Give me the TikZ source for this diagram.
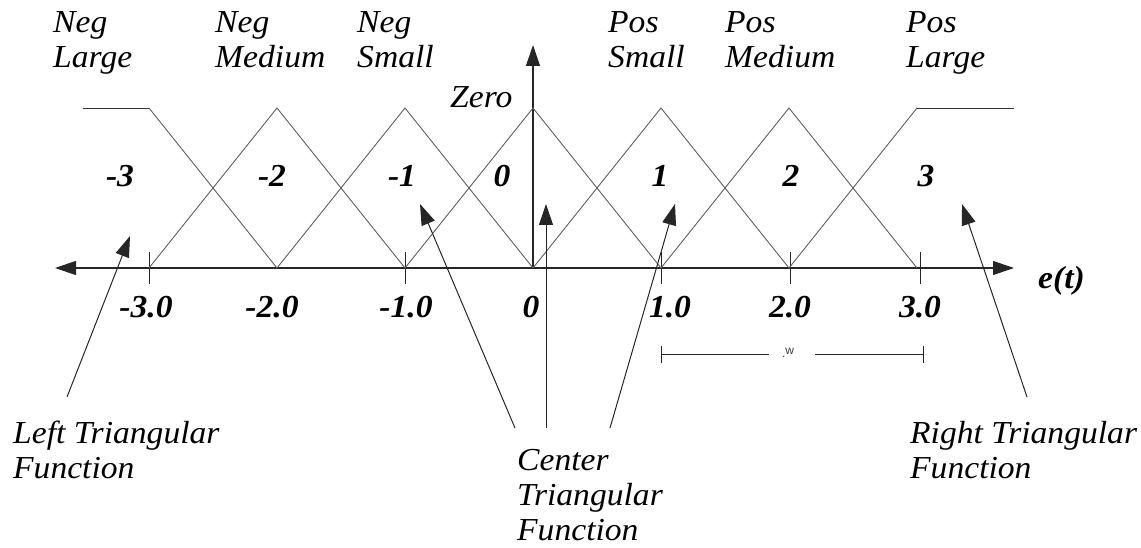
\documentclass[tikz,border=0pt]{standalone}
\usepackage{fontspec}
\setmainfont{Liberation Serif}
\newfontfamily\labfont[FakeStretch=1.05]{Liberation Serif}
\setsansfont{Liberation Sans}
\usetikzlibrary{arrows.meta}
\begin{document}
\begin{tikzpicture}[x=1pt,y=-1pt,
  lab/.style={font=\labfont\fontsize{32}{35}\selectfont\itshape, inner sep=0pt, align=left},
  num/.style={font=\labfont\fontsize{32}{35}\selectfont\bfseries\itshape, inner sep=0pt},
  mf/.style={draw=black!62, line width=0.9pt, line join=miter},
  axisline/.style={draw=black!85, line width=1.2pt},
  tip/.style={-{Triangle[length=21pt,width=14pt]}},
  pointer/.style={draw=black!85, line width=1pt, -{Triangle[length=21pt,width=14pt]}},
  tickmark/.style={draw=black!85, line width=1pt}]
\useasboundingbox (0,0) rectangle (1141,548);
% axes
\coordinate (xl) at (55,268);
\coordinate (xr) at (1014,268);
\coordinate (o) at (533,268);
\coordinate (yt) at (533,45);
\draw[axisline, tip] (o) -- (xl);
\draw[axisline, tip] (o) -- (xr);
\draw[axisline, tip] (o) -- (yt);
% ticks
\foreach \x in {149, 405, 661, 790, 920}{
  \draw[tickmark] (\x,252) -- (\x,284);
}
% membership functions
\draw[mf, draw=black!80] (83,108) -- (149,108);
\draw[mf] (149,108) -- (277,268);
\draw[mf] (149,268) -- (277,108) -- (405,268);
\draw[mf] (277,268) -- (405,108) -- (533,268);
\draw[mf] (405,268) -- (533,108) -- (661,268);
\draw[mf] (533,268) -- (661,108) -- (789,268);
\draw[mf] (661,268) -- (789,108) -- (917,268);
\draw[mf] (789,268) -- (917,108);
\draw[mf, draw=black!80] (917,108) -- (1014,108);
% set labels (anchor = baseline of last line)
\node[lab, anchor=base west] (nl) at (53,68) {Neg\\Large};
\node[lab, anchor=base west] (nm) at (215,68) {Neg\\Medium};
\node[lab, anchor=base west] (ns) at (357,68) {Neg\\Small};
\node[lab, anchor=base west] (ze) at (450,108) {Zero};
\node[lab, anchor=base west] (ps) at (608,68) {Pos\\Small};
\node[lab, anchor=base west] (pm) at (725,68) {Pos\\Medium};
\node[lab, anchor=base west] (pl) at (906,68) {Pos\\Large};
% index numbers
\node[num, anchor=base] (i1) at (120,187) {-3};
\node[num, anchor=base] (i2) at (272,187) {-2};
\node[num, anchor=base] (i3) at (402,187) {-1};
\node[num, anchor=base] (i4) at (502,187) {0};
\node[num, anchor=base] (i5) at (660,187) {1};
\node[num, anchor=base] (i6) at (791,187) {2};
\node[num, anchor=base] (i7) at (926,187) {3};
% axis values
\node[num, anchor=base] (v1) at (146,317) {-3.0};
\node[num, anchor=base] (v2) at (272,317) {-2.0};
\node[num, anchor=base] (v3) at (406,317) {-1.0};
\node[num, anchor=base] (v4) at (531,317) {0};
\node[num, anchor=base] (v5) at (670,317) {1.0};
\node[num, anchor=base] (v6) at (790,317) {2.0};
\node[num, anchor=base] (v7) at (920,317) {3.0};
\node[num, anchor=base west] (et) at (1038,288) {e(t)};
% width bracket
\node[font=\sffamily\fontsize{12}{12}\selectfont, inner sep=1pt, text=black!75] (w) at (788,353) {\raisebox{-3pt}{.}w};
\coordinate (wl) at (661,354);
\coordinate (wr) at (923,354);
\draw[tickmark] (wl) -- (769,354);
\draw[tickmark] (815,354) -- (wr);
\draw[tickmark] (661,346) -- (661,363);
\draw[tickmark] (923,346) -- (923,363);
% descriptive labels
\node[lab, anchor=base west] (lt) at (13,478) {Left Triangular\\Function};
\node[lab, anchor=base west] (ct) at (517,540) {Center\\Triangular\\Function};
\node[lab, anchor=base west] (rt) at (910,478) {Right Triangular\\Function};
% pointers
\coordinate (lts) at (67,397);
\coordinate (ltt) at (130,236);
\draw[pointer] (lts) -- (ltt);
\coordinate (cs1) at (515,428);
\coordinate (ct1) at (420,204);
\coordinate (cs2) at (546,428);
\coordinate (ct2) at (546,204);
\coordinate (cs3) at (610,428);
\coordinate (ct3) at (675,204);
\draw[pointer] (cs1) -- (ct1);
\draw[pointer] (cs2) -- (ct2);
\draw[pointer] (cs3) -- (ct3);
\coordinate (rts) at (1027,397);
\coordinate (rtt) at (962,204);
\draw[pointer] (rts) -- (rtt);
\end{tikzpicture}
\end{document}
